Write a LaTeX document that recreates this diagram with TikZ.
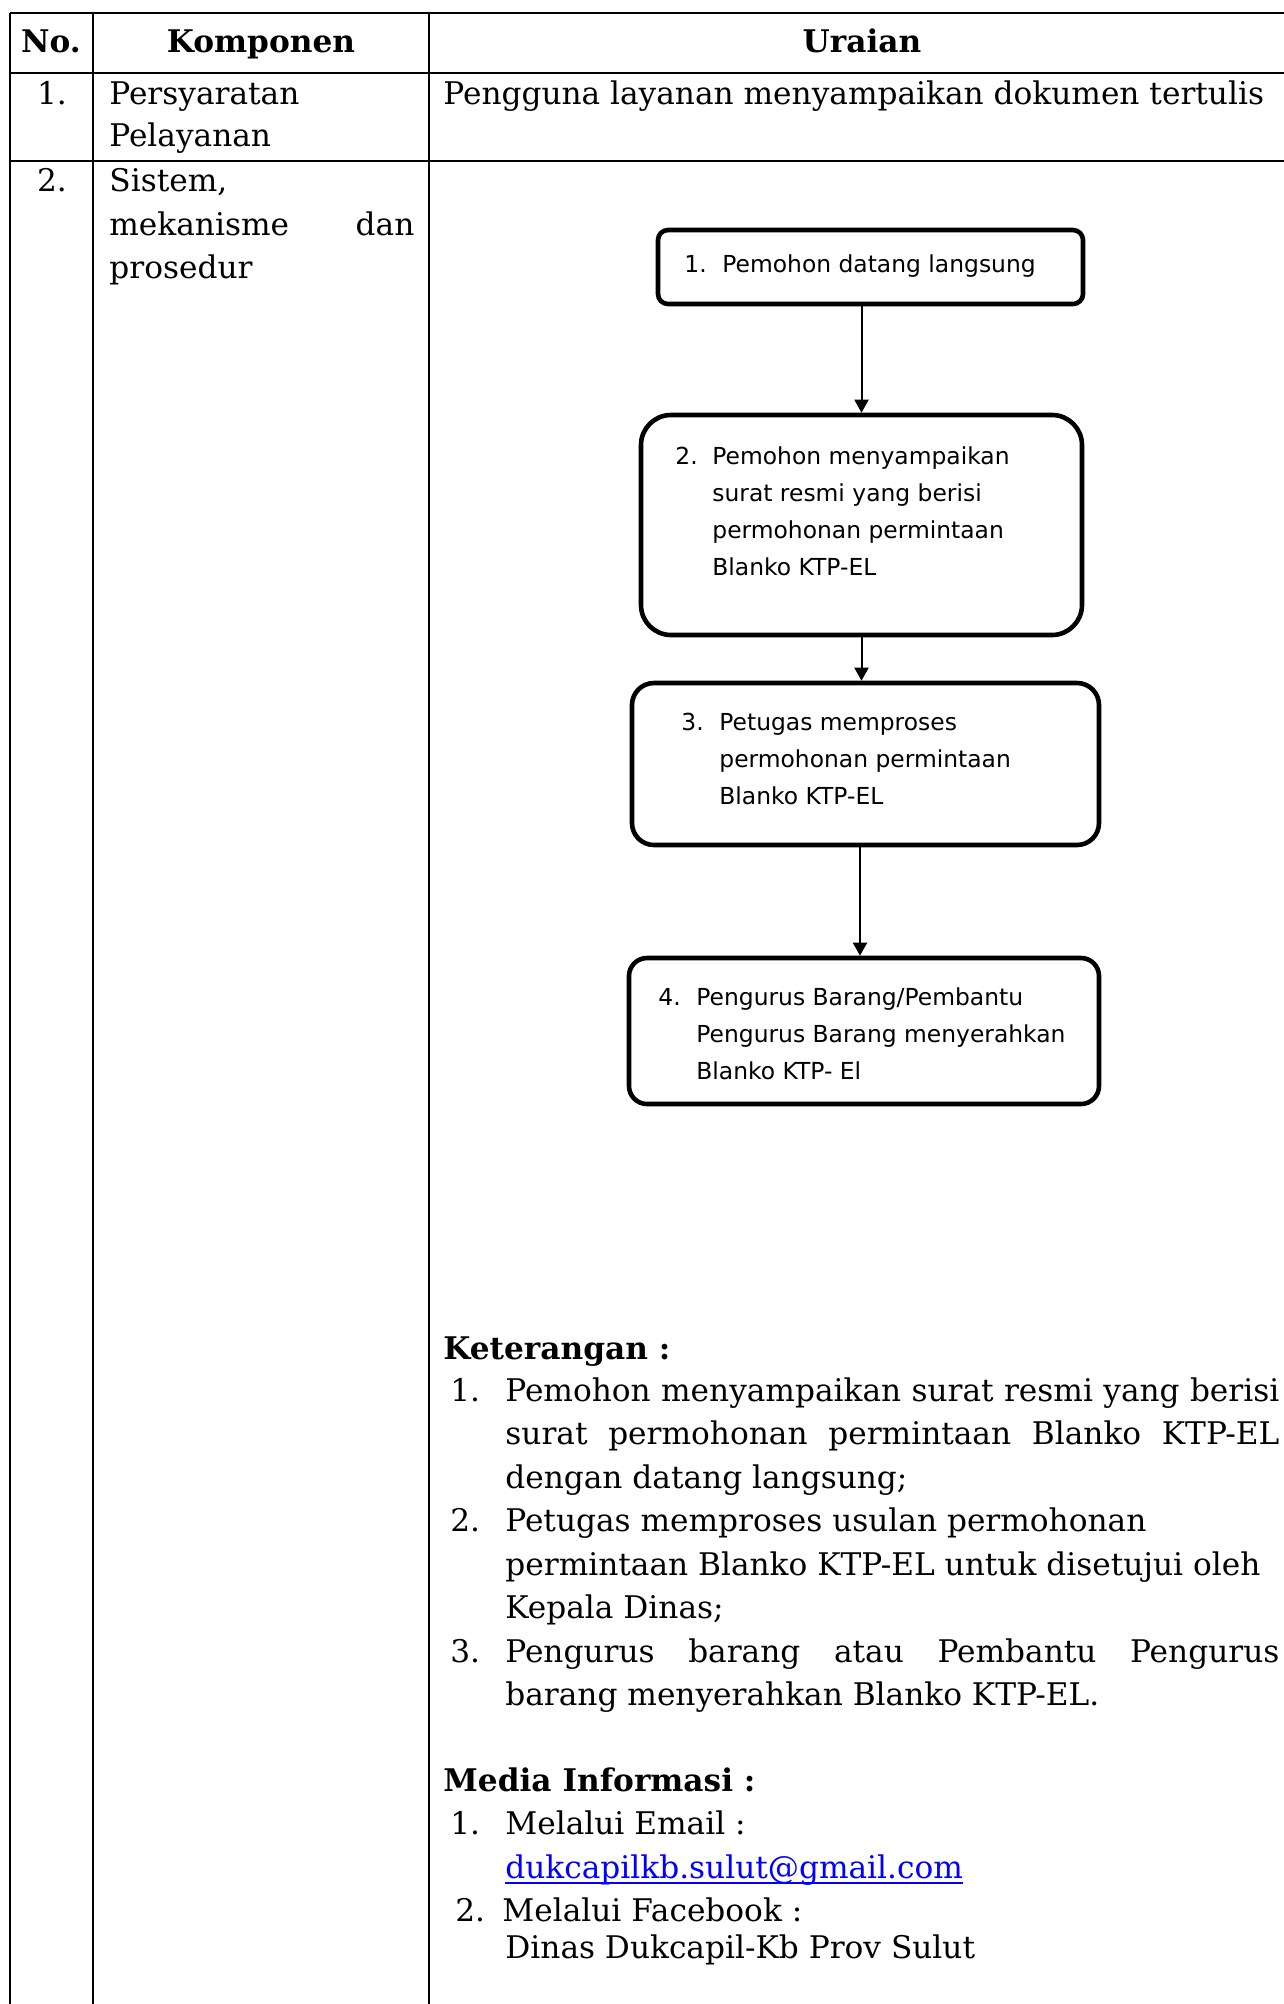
\documentclass[tikz,border=0pt]{standalone}
\usepackage{fontspec}
\setmainfont{DejaVu Serif}
\newfontfamily\flowfont{DejaVu Sans}
\usetikzlibrary{arrows.meta}
\definecolor{linkblue}{RGB}{0,0,255}
\begin{document}
\begin{tikzpicture}[x=0.5pt,y=-0.5pt,
  grid/.style={line width=1.2pt},
  flowbox/.style={draw, line width=2.3pt, inner sep=0pt},
  arr/.style={line width=1pt, -{Triangle[width=7pt,length=6.5pt]}},
  flow/.style={font=\flowfont\fontsize{11.7}{13}\selectfont, anchor=base west, inner sep=0pt},
  body/.style={font=\fontsize{15.6}{18}\selectfont, anchor=base west, inner sep=0pt},
  bodyb/.style={body, font=\fontsize{15.6}{18}\selectfont\bfseries},
  hdr/.style={font=\fontsize{15.6}{18}\selectfont\bfseries, anchor=base, inner sep=0pt},
  num/.style={body, anchor=base}
]
\useasboundingbox (0,0) rectangle (1284,2004);
\fill[white] (0,0) rectangle (1284,2004);
% table grid
\draw[grid] (10,13) -- (1284,13);
\draw[grid] (10,73) -- (1284,73);
\draw[grid] (10,161) -- (1284,161);
\draw[grid] (10,13) -- (10,2004);
\draw[grid] (93,13) -- (93,2004);
\draw[grid] (429,13) -- (429,2004);
% header
\node[hdr] (hNo) at (51,52) {No.};
\node[hdr] (hKomp) at (261,52) {Komponen};
\node[hdr] (hUr) at (862,52) {Uraian};
% row 1
\node[num] (r1n) at (52,104) {1.};
\node[body] (r1a) at (109,104) {Persyaratan};
\node[body] (r1b) at (109,146) {Pelayanan};
\node[body] (r1c) at (443,104) {Pengguna layanan menyampaikan dokumen tertulis};
% row 2
\node[num] (r2n) at (52,191) {2.};
\node[body] (r2a) at (109,191) {Sistem,};
\node[body] (r2b) at (109,235) {\makebox[152.5pt][s]{mekanisme \hfill dan}};
\node[body] (r2c) at (109,278) {prosedur};
% flowchart boxes
\node[flowbox, rounded corners=5pt, minimum width=212.5pt, minimum height=37pt] (b1) at (870.5,267) {};
\node[flowbox, rounded corners=15pt, minimum width=220.5pt, minimum height=110pt] (b2) at (861.5,525) {};
\node[flowbox, rounded corners=11pt, minimum width=233.5pt, minimum height=81pt] (b3) at (865.5,764) {};
\node[flowbox, rounded corners=9pt, minimum width=235pt, minimum height=73pt] (b4) at (864,1031) {};
\coordinate (a34) at (860,900);
% flowchart text
\node[flow] (t1n) at (684,272) {1.};
\node[flow] (t1a) at (722,272) {Pemohon datang langsung};
\node[flow] (t2n) at (675,464) {2.};
\node[flow] (t2a) at (712,464) {Pemohon menyampaikan};
\node[flow] (t2b) at (712,501) {surat resmi yang berisi};
\node[flow] (t2c) at (712,538) {permohonan permintaan};
\node[flow] (t2d) at (712,575) {Blanko KTP-EL};
\node[flow] (t3n) at (681,730) {3.};
\node[flow] (t3a) at (719,730) {Petugas memproses};
\node[flow] (t3b) at (719,767) {permohonan permintaan};
\node[flow] (t3c) at (719,804) {Blanko KTP-EL};
\node[flow] (t4n) at (658,1005) {4.};
\node[flow] (t4a) at (696,1005) {Pengurus Barang/Pembantu};
\node[flow] (t4b) at (696,1042) {Pengurus Barang menyerahkan};
\node[flow] (t4c) at (696,1079) {Blanko KTP- El};
% connectors
\draw[arr] (b1.south -| b2.north) -- (b2.north);
\draw[arr] (b2.south) -- (b2.south |- b3.north);
\draw[arr] (b3.south -| a34) -- (b4.north -| a34);
% keterangan
\node[bodyb] (ket) at (443,1359) {Keterangan :};
\node[body] (k1n) at (450,1401) {1.};
\node[body] (k1a) at (505,1401) {\makebox[387pt][s]{Pemohon menyampaikan surat resmi yang berisi}};
\node[body] (k1b) at (505,1444) {\makebox[387pt][s]{surat permohonan permintaan Blanko KTP-EL}};
\node[body] (k1c) at (505,1488) {dengan datang langsung;};
\node[body] (k2n) at (450,1531) {2.};
\node[body] (k2a) at (505,1531) {Petugas memproses usulan permohonan};
\node[body] (k2b) at (505,1575) {permintaan Blanko KTP-EL untuk disetujui oleh};
\node[body] (k2c) at (505,1618) {Kepala Dinas;};
\node[body] (k3n) at (450,1662) {3.};
\node[body] (k3a) at (505,1662) {\makebox[387pt][s]{Pengurus barang atau Pembantu Pengurus}};
\node[body] (k3b) at (505,1705) {barang menyerahkan Blanko KTP-EL.};
% media informasi
\node[bodyb] (med) at (443,1791) {Media Informasi :};
\node[body] (m1n) at (450,1834) {1.};
\node[body] (m1a) at (505,1834) {Melalui Email :};
\node[body, text=linkblue] (m1b) at (505,1878) {dukcapilkb.sulut@gmail.com};
\draw[linkblue, line width=0.8pt] ([yshift=-2.5pt]m1b.base west) -- ([yshift=-2.5pt]m1b.base east);
\node[body] (m2n) at (455,1921) {2.};
\node[body] (m2a) at (502,1921) {Melalui Facebook :};
\node[body] (m2b) at (505,1958) {Dinas Dukcapil-Kb Prov Sulut};
\end{tikzpicture}
\end{document}
